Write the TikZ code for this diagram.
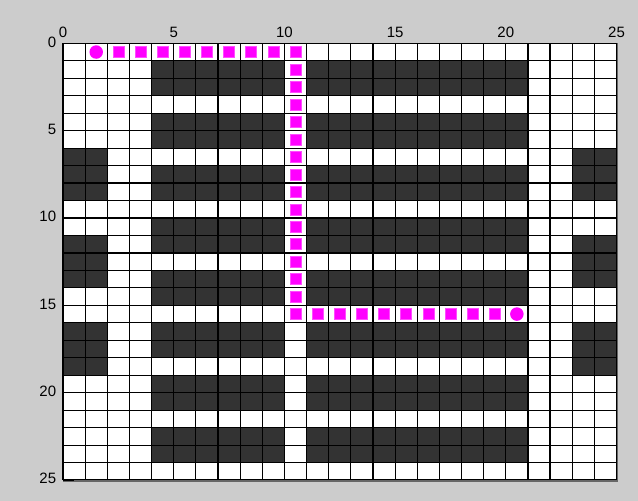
\documentclass[tikz,border=0pt]{standalone}
\usepackage{fontspec}
\setsansfont{Liberation Sans}
\definecolor{bggray}{HTML}{CCCCCC}
\definecolor{darkcell}{HTML}{333333}
\definecolor{pathmag}{HTML}{FF00FF}
\tikzset{
  gridline/.style={draw=black, line width=1.2pt},
  darkblock/.style={fill=darkcell},
  sqmark/.style={rectangle, fill=pathmag, draw=pathmag!70!white, line width=0.5pt, minimum size=11pt, inner sep=0pt},
  circmark/.style={circle, fill=pathmag, minimum size=13.5pt, inner sep=0pt},
  ticklabel/.style={font=\sffamily\fontsize{15}{15}\selectfont, text=black, inner sep=0pt}
}
\begin{document}
\begin{tikzpicture}[x=1pt,y=-1pt]
\fill[bggray] (0,0) rectangle (638,501);
\useasboundingbox (0,0) rectangle (638,501);
\begin{scope}[shift={(63,43.3)}, x=22.14pt, y=-17.47pt]
  \fill[white] (0,0) rectangle (25,25);
  \foreach \r in {1,4,7,10,13,16,19,22} {
    \fill[darkblock] (4,\r) rectangle (10,\r+2);
    \fill[darkblock] (11,\r) rectangle (21,\r+2);
  }
  \foreach \r in {6,11,16} {
    \fill[darkblock] (0,\r) rectangle (2,\r+3);
    \fill[darkblock] (23,\r) rectangle (25,\r+3);
  }
  \foreach \k in {0,...,25} {
    \draw[gridline] (\k,0) -- (\k,25);
    \draw[gridline] (0,\k) -- (25,\k);
  }
  \draw[draw=black!60, line width=1.6pt] (25.04,0) -- (25.04,25.05) -- (0,25.05);
  % tick at bottom left
  \draw[black, line width=1.4pt] (0,25) -- (0.48,25);
  % tick labels
  \foreach \k in {0,5,10,15,20,25} {
    \node[ticklabel] (tx\k) at (\k,-0.6) {\k};
    \node[ticklabel, anchor=east] (ty\k) at (-0.3,\k-0.08) {\k};
  }
  % path markers
  \node[circmark] (start) at (1.5,0.5) {};
  \foreach \i in {2,...,10} {
    \node[sqmark] (pa\i) at (\i+0.5,0.5) {};
  }
  \foreach \j in {1,...,15} {
    \node[sqmark] (pb\j) at (10.5,\j+0.5) {};
  }
  \foreach \i in {11,...,19} {
    \node[sqmark] (pc\i) at (\i+0.5,15.5) {};
  }
  \node[circmark] (goal) at (20.5,15.5) {};
\end{scope}
\end{tikzpicture}
\end{document}
